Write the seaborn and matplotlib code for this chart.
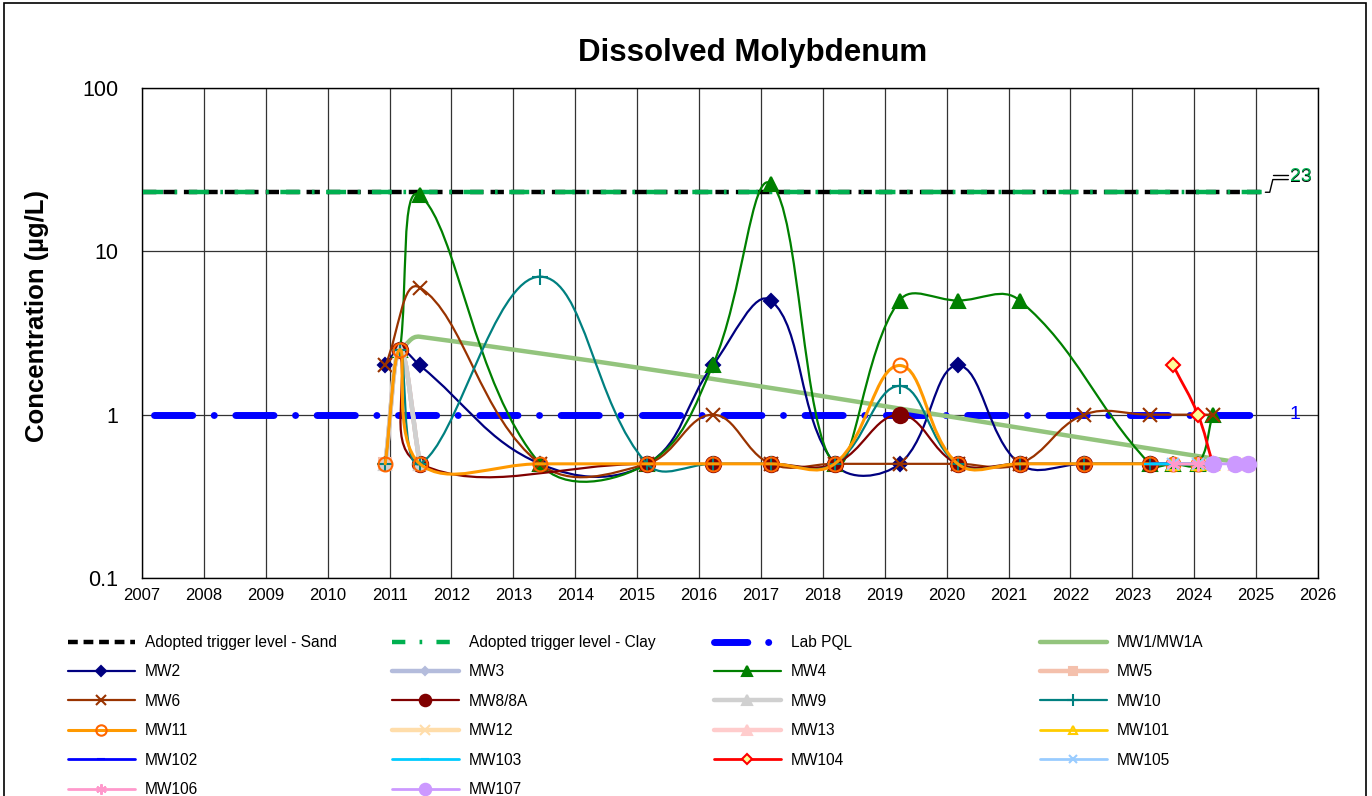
import numpy as np
import matplotlib
matplotlib.use("Agg")
import matplotlib.pyplot as plt
import seaborn as sns
from matplotlib.path import Path
from matplotlib.patches import PathPatch, Rectangle
from matplotlib.lines import Line2D
from matplotlib.ticker import FixedLocator, FixedFormatter

N = None
# sampling events (decimal years)
sample_dates = [2010.93, 2011.17, 2011.49, 2013.43, 2015.16, 2016.22, 2017.16, 2018.19,
                2019.24, 2020.18, 2021.18, 2022.22, 2023.28, 2023.66, 2024.06, 2024.30,
                2024.66, 2024.87]

# concentrations (ug/L), aligned with sample_dates, None = not sampled
mw1 = [N, 2.5, 3.0, N, N, N, N, N, N, N, N, N, N, N, N, N, N, 0.5]
mw2 = [2.0, 2.5, 2.0, 0.5, 0.5, 2.0, 5.0, 0.5, 0.5, 2.0, 0.5, 0.5, 0.5, N, N, N, N, N]
mw3 = [0.5, 2.5, 0.5, N, N, N, N, N, N, N, N, N, N, N, N, N, N, N]
mw4 = [N, 2.5, 22.0, 0.5, 0.5, 2.0, 26.0, 0.5, 5.0, 5.0, 5.0, N, 0.5, 0.5, 0.5, 1.0, N, N]
mw5 = [0.5, 2.5, 0.5, N, N, N, N, N, N, N, N, N, N, N, N, N, N, N]
mw6 = [2.0, N, 6.0, 0.5, 0.5, 1.0, 0.5, 0.5, 0.5, 0.5, 0.5, 1.0, 1.0, N, N, 1.0, N, N]
mw8 = [N, 2.5, 0.5, N, 0.5, 0.5, 0.5, 0.5, 1.0, 0.5, 0.5, 0.5, 0.5, N, N, N, N, N]
mw9 = [0.5, 2.5, 0.5, N, N, N, N, N, N, N, N, N, N, N, N, N, N, N]
mw10 = [0.5, 2.5, 0.5, 7.0, 0.5, 0.5, 0.5, 0.5, 1.5, 0.5, 0.5, 0.5, 0.5, 0.5, 0.5, N, N, N]
mw11 = [0.5, 2.5, 0.5, 0.5, 0.5, 0.5, 0.5, 0.5, 2.0, 0.5, 0.5, 0.5, 0.5, 0.5, 0.5, 0.5, N, N]
mw12 = [N, N, N, N, N, N, N, N, N, N, N, N, N, N, N, N, 0.5, 0.5]
mw13 = [N, N, N, N, N, N, N, N, N, N, N, N, N, N, N, N, 0.5, 0.5]
mw101 = [N, N, N, N, N, N, N, N, N, N, N, N, N, 0.5, 0.5, 0.5, N, N]
mw102 = [N, N, N, N, N, N, N, N, N, N, N, N, 0.5, 0.5, 0.5, 0.5, N, N]
mw103 = [N, N, N, N, N, N, N, N, N, N, N, N, 0.5, 0.5, 0.5, 0.5, N, N]
mw104 = [N, N, N, N, N, N, N, N, N, N, N, N, N, 2.0, 1.0, 0.5, N, N]
mw105 = [N, N, N, N, N, N, N, N, N, N, N, N, N, 0.5, 0.5, 0.5, N, N]
mw106 = [N, N, N, N, N, N, N, N, N, N, N, N, N, 0.5, 0.5, 0.5, N, N]
mw107 = [N, N, N, N, N, N, N, N, N, N, N, N, N, N, N, 0.5, 0.5, 0.5]

# guideline levels
trigger_sand = 23
trigger_clay = 23
lab_pql = 1
guide_x = [2007.02, 2025.15]
pql_x = [2007.2, 2025.1]

years = list(range(2007, 2027))
y_ticks = [0.1, 1, 10, 100]
y_tick_labels = ["0.1", "1", "10", "100"]

sns.set_style("white")
plt.rcParams["font.family"] = ["Liberation Sans", "DejaVu Sans"]
plt.rcParams["text.color"] = "black"
plt.rcParams["axes.labelcolor"] = "black"

# px per year / px per decade, used to weigh the smoothing like Excel does on screen
SX, SY = 61.9, 163.3


def smooth_path(xs, ys, t=0.4):
    # smoothed line: cubic Bezier through the points, tangents weighted by segment length
    pts = np.column_stack([xs, np.log10(ys)])
    scr = pts * [SX, SY]
    n = len(pts)
    verts = [pts[0]]
    codes = [Path.MOVETO]
    for i in range(n - 1):
        i0, i3 = max(i - 1, 0), min(i + 2, n - 1)
        d01 = np.hypot(*(scr[i] - scr[i0]))
        d12 = np.hypot(*(scr[i + 1] - scr[i]))
        d23 = np.hypot(*(scr[i3] - scr[i + 1]))
        c1 = pts[i] + t * (pts[i + 1] - pts[i0]) * d12 / max(d01 + d12, 1e-9)
        c2 = pts[i + 1] - t * (pts[i3] - pts[i]) * d12 / max(d12 + d23, 1e-9)
        verts += [c1, c2, pts[i + 1]]
        codes += [Path.CURVE4] * 3
    verts = np.array(verts)
    verts[:, 1] = 10 ** verts[:, 1]
    return Path(verts, codes)


# label, values, line colour, line width, marker, size, face, edge
wells = [
    ("MW1/MW1A", mw1, "#93C47D", 3.2, "None", 0, None, None),
    ("MW2", mw2, "#000080", 1.6, "D", 7, "#000080", "#000080"),
    ("MW3", mw3, "#B4BCDC", 3.2, "D", 6, "#B4BCDC", "#B4BCDC"),
    ("MW4", mw4, "#008000", 1.6, "^", 10, "#008000", "#008000"),
    ("MW5", mw5, "#F4C0AC", 3.2, "s", 8, "#F4C0AC", "#F4C0AC"),
    ("MW6", mw6, "#993300", 1.6, "x", 10, "#993300", "#993300"),
    ("MW8/8A", mw8, "#800000", 1.6, "o", 11, "#800000", "#800000"),
    ("MW9", mw9, "#D0D0D0", 3.2, "^", 9, "#D0D0D0", "#D0D0D0"),
    ("MW10", mw10, "#008080", 1.6, "+", 11, "#008080", "#008080"),
    ("MW11", mw11, "#FF9900", 2.2, "o", 10, "none", "#FF6600"),
    ("MW12", mw12, "#FFDDAA", 3.2, "x", 9, "#FFDDAA", "#FFDDAA"),
    ("MW13", mw13, "#FFCCCC", 3.2, "^", 9, "#FFCCCC", "#FFCCCC"),
    ("MW101", mw101, "#FFCC00", 2.0, "^", 8, "none", "#FFCC00"),
    ("MW102", mw102, "#0000FF", 2.0, "_", 8, "#0000FF", "#0000FF"),
    ("MW103", mw103, "#00CCFF", 2.0, "_", 8, "#00CCFF", "#00CCFF"),
    ("MW104", mw104, "#FF0000", 2.0, "D", 7, "#FFFF99", "#FF0000"),
    ("MW105", mw105, "#99CCFF", 2.0, "x", 8, "#99CCFF", "#99CCFF"),
    ("MW106", mw106, "#FF99CC", 2.0, (6, 2, 0), 10, "#FF99CC", "#FF99CC"),
    ("MW107", mw107, "#CC99FF", 2.0, "o", 11, "#CC99FF", "#CC99FF"),
]

fig = plt.figure(figsize=(13.72, 7.96), dpi=100)
ax = fig.add_axes([142 / 1372, 1 - 578 / 796, 1176 / 1372, 490 / 796])
ax.set_yscale("log")
ax.set_xlim(2007, 2026)
ax.set_ylim(0.1, 100)

sand_ls = (0, (3.0, 1.6))
clay_ls = (0, (4.5, 2.6, 0.6, 2.6))
pql_ls = (0, (5.5, 3.1, 0.01, 3.1))

sns.lineplot(x=guide_x, y=[trigger_sand] * 2, ax=ax, color="black", lw=3.2,
             linestyle=sand_ls, zorder=3, legend=False)
sns.lineplot(x=guide_x, y=[trigger_clay] * 2, ax=ax, color="#00B050", lw=3.2,
             linestyle=clay_ls, zorder=3, legend=False)
sns.lineplot(x=pql_x, y=[lab_pql] * 2, ax=ax, color="#0000FF", lw=5,
             linestyle=pql_ls, dash_capstyle="round", zorder=3, legend=False)

handles = [
    Line2D([], [], color="black", lw=3.2, linestyle=(0, (2.2, 1.3))),
    Line2D([], [], color="#00B050", lw=3.2, linestyle=(0, (3.0, 3.2, 0.6, 3.2))),
    Line2D([], [], color="#0000FF", lw=5, linestyle=(0, (4.8, 3.0, 0.01, 10)),
           dash_capstyle="round"),
]
labels = ["Adopted trigger level - Sand", "Adopted trigger level - Clay", "Lab PQL"]

z = 4
for name, vals, col, lw, mk, ms, fc, ec in wells:
    xs = [d for d, v in zip(sample_dates, vals) if v is not None]
    ys = [v for v in vals if v is not None]
    ax.add_patch(PathPatch(smooth_path(xs, ys), fill=False, edgecolor=col, lw=lw,
                           capstyle="round", joinstyle="round", zorder=z))
    if mk != "None":
        ax.plot(xs, ys, linestyle="none", marker=mk, ms=ms, mfc=fc, mec=ec,
                mew=1.5, zorder=z + 0.5)
    z += 1
    handles.append(Line2D([], [], color=col, lw=lw, marker=mk, ms=ms * 0.75,
                          mfc=fc, mec=ec, mew=1.5))
    labels.append(name)

# end labels
ax.text(2025.73, 28.3, "23", color="black", fontsize=14, ha="center", va="center",
        clip_on=False)
ax.text(2025.72, 28.6, "23", color="#00B050", fontsize=14, ha="center", va="center",
        clip_on=False)
ax.plot([2025.15, 2025.22, 2025.27, 2025.52], [23, 23, 27.5, 27.5], color="black",
        lw=1, clip_on=False, zorder=3)
ax.plot([2025.27, 2025.52], [29.3, 29.3], color="black", lw=1, clip_on=False, zorder=3)
ax.text(2025.63, 1, "1", color="#0000FF", fontsize=14, ha="center", va="center",
        clip_on=False)

ax.xaxis.set_major_locator(FixedLocator(years))
ax.yaxis.set_major_locator(FixedLocator(y_ticks))
ax.yaxis.set_major_formatter(FixedFormatter(y_tick_labels))
ax.yaxis.set_minor_locator(FixedLocator([]))
ax.tick_params(axis="x", labelsize=12, direction="inout", length=6, width=1,
               colors="black", pad=4)
ax.tick_params(axis="y", labelsize=15.5, direction="inout", length=14, width=1,
               colors="black", pad=10)
ax.grid(True, which="major", color="#333333", lw=0.9)
ax.set_axisbelow(True)
for s in ax.spines.values():
    s.set_color("black")
    s.set_linewidth(1)

fig.text(753 / 1372, 1 - 53 / 796, "Dissolved Molybdenum", ha="center", va="center",
         fontsize=22.5, fontweight="bold", color="black")
fig.text(37 / 1372, 1 - 316 / 796, "Concentration (µg/L)", ha="center", va="center",
         rotation=90, fontsize=18.5, fontweight="bold", color="black")

# legend: 4 equal-width columns, filled row by row
col_x = [68, 392, 714, 1040]
for c in range(4):
    hs = handles[c::4]
    ls = labels[c::4]
    fig.legend(hs, ls, loc="upper left", bbox_to_anchor=(col_x[c] / 1372, 1 - 635 / 796),
               frameon=False, fontsize=11.2, handlelength=4.3, handletextpad=0.65,
               labelspacing=0.93, borderpad=0, borderaxespad=0)

fig.patches.append(Rectangle((4 / 1372, -0.01), 1362 / 1372, 1.0 + 0.01 - 3 / 796,
                             transform=fig.transFigure, fill=False, ec="black", lw=1.2))

fig.savefig("out.png", dpi=100)
